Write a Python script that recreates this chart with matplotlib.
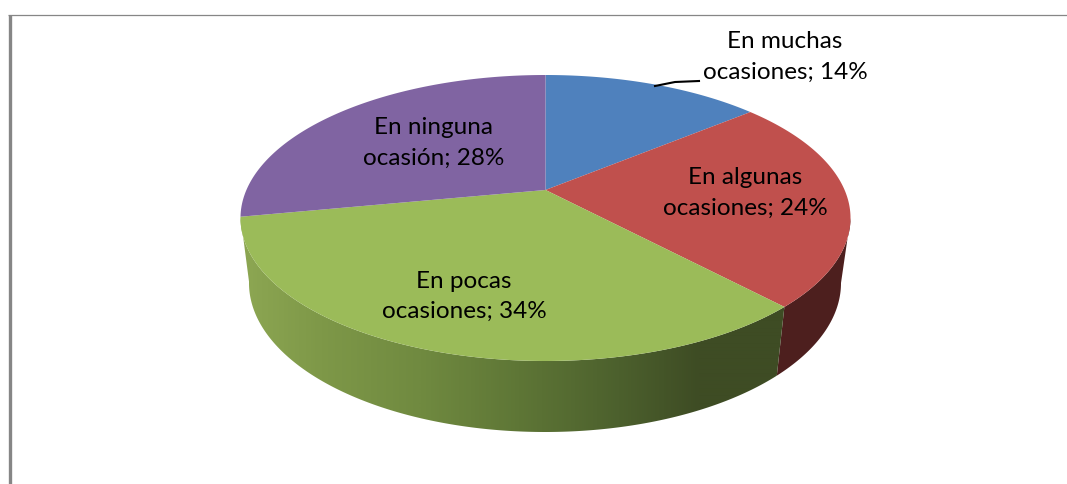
import numpy as np
import matplotlib
matplotlib.use("Agg")
import matplotlib.pyplot as plt
from matplotlib.colors import LinearSegmentedColormap
from matplotlib.patches import Polygon

categories = ["En muchas\nocasiones", "En algunas\nocasiones", "En pocas\nocasiones", "En ninguna\nocasión"]
values = [14, 24, 34, 28]
colors = ["#4F81BD", "#C0504D", "#9BBB59", "#8064A2"]
label_pos = [(785, 57), (745, 193), (464, 296.5), (434, 143)]

W, H = 1067, 484
fig = plt.figure(figsize=(W / 100, H / 100), dpi=100, facecolor="white")
ax = fig.add_axes([0, 0, 1, 1])

CX, CY, RX, RY = 545.5, 218, 305, 143
BX, BY, BRX, BRY = 545, 283, 296, 149
D = 0.196


def project(theta, cx, cy, rx, ry):
    """Perspective view of a circle; theta runs clockwise from the top."""
    u, v = np.sin(theta), np.cos(theta)
    den = 1 + D * v
    return cx + rx * np.sqrt(1 - D * D) * u / den, cy - ry * (v + D) / den


def band(a0, a1):
    t = np.linspace(a0, a1, 300)
    top = np.c_[project(t, CX, CY, RX, RY)]
    bottom = np.c_[project(t, BX, BY, BRX, BRY)]
    return np.r_[top, bottom[::-1]]


bounds = np.radians(np.concatenate([[0], np.cumsum(values)]) * 3.6)

# Dark red side, from the right-hand silhouette to the slice boundary
ax.add_patch(Polygon(band(np.arccos(-D), bounds[2]), closed=True, fc="#4D1F1E", ec="none", zorder=1))

# Green side, horizontal gradient clipped to the visible band
grad_x0, grad_x1 = 230, 800
stops = [(230, "#8CA652"), (245, "#8CA652"), (320, "#7E9848"), (420, "#708A40"), (520, "#5E7636"),
         (620, "#4C602D"), (700, "#3E4C24"), (800, "#3E4C24")]
cmap = LinearSegmentedColormap.from_list(
    "side", [((x - grad_x0) / (grad_x1 - grad_x0), c) for x, c in stops])
green_band = Polygon(band(bounds[2], bounds[3]), closed=True, fc="none", ec="none", transform=ax.transData)
ax.add_patch(green_band)
im = ax.imshow(np.linspace(0, 1, 570)[None, :], extent=(grad_x0, grad_x1, 440, 200),
               cmap=cmap, aspect="auto", zorder=1.5, interpolation="bilinear")
im.set_clip_path(green_band)

# Top faces
apex = (CX, CY - RY * D)
for i in range(len(values)):
    t = np.linspace(bounds[i], bounds[i + 1], 200)
    xt, yt = project(t, CX, CY, RX, RY)
    pts = np.r_[[apex], np.c_[xt, yt]]
    ax.add_patch(Polygon(pts, closed=True, fc=colors[i], ec="none", zorder=2))

# Frame
ax.plot([9.5, 9.5], [14.5, H], color="#868686", lw=2.4, solid_capstyle="butt", zorder=3)
ax.plot([8, W], [14.5, 14.5], color="#868686", lw=0.9, solid_capstyle="butt", zorder=3)

# Labels
for cat, val, (x, y) in zip(categories, values, label_pos):
    ax.text(x, y, f"{cat}; {val}%", ha="center", va="center", family="Lato",
            fontsize=17.5, linespacing=1.56, color="black", zorder=4)

# Leader line
ax.plot([655, 675, 699], [86, 82, 81], color="black", lw=1.5, zorder=4)

ax.set_xlim(0, W)
ax.set_ylim(H, 0)
ax.axis("off")

fig.savefig("out.png", dpi=100, facecolor="white")
